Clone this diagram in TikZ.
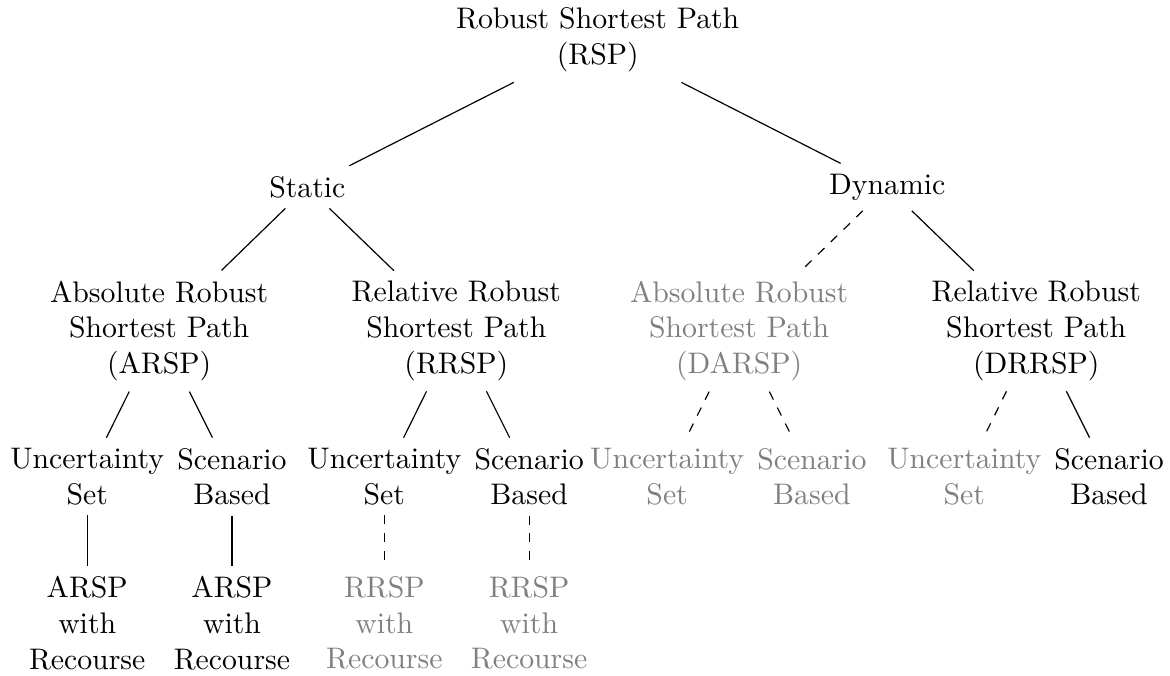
\documentclass[tikz,border=0pt]{standalone}
\usepackage{tikz}
\usetikzlibrary{calc}
\usepackage{xcolor}
\definecolor{fadegray}{RGB}{128,128,128}
\tikzset{
    topic/.style={align=center, text=black},
    topicfade/.style={align=center, text=fadegray},
    branch/.style={draw=black, line width=0.4pt},
    branchfade/.style={draw=black, line width=0.4pt, dashed}
}

\begin{document}
\begin{tikzpicture}
    \useasboundingbox (0,0) rectangle (13.82,-7.98);
    % Raiz
    \node[topic] (rsp) at (7.06,-0.47) {Robust Shortest Path\\(RSP)};
    % Nivel 1
    \node[topic] (static) at (3.63,-2.21) {Static};
    \node[topic] (dynamic) at (10.48,-2.21) {Dynamic};
    % Nivel 2
    \node[topic] (arsp) at (1.88,-3.91) {Absolute Robust\\Shortest Path\\(ARSP)};
    \node[topic] (rrsp) at (5.39,-3.91) {Relative Robust\\Shortest Path\\(RRSP)};
    \node[topicfade] (darsp) at (8.73,-3.91) {Absolute Robust\\Shortest Path\\(DARSP)};
    \node[topic] (drrsp) at (12.24,-3.91) {Relative Robust\\Shortest Path\\(DRRSP)};
    % Nivel 3
    \node[topic] (arspU) at (1.03,-5.63) {Uncertainty\\Set};
    \node[topic] (arspS) at (2.74,-5.63) {Scenario\\Based};
    \node[topic] (rrspU) at (4.54,-5.63) {Uncertainty\\Set};
    \node[topic] (rrspS) at (6.25,-5.63) {Scenario\\Based};
    \node[topicfade] (darspU) at (7.88,-5.63) {Uncertainty\\Set};
    \node[topicfade] (darspS) at (9.59,-5.63) {Scenario\\Based};
    \node[topicfade] (drrspU) at (11.39,-5.63) {Uncertainty\\Set};
    \node[topic] (drrspS) at (13.10,-5.63) {Scenario\\Based};
    % Nivel 4
    \node[topic] (arspUR) at (1.03,-7.36) {ARSP\\with\\Recourse};
    \node[topic] (arspSR) at (2.74,-7.36) {ARSP\\with\\Recourse};
    \node[topicfade] (rrspUR) at (4.54,-7.36) {RRSP\\with\\Recourse};
    \node[topicfade] (rrspSR) at (6.25,-7.36) {RRSP\\with\\Recourse};
    % Ligacoes
    \draw[branch] (rsp) -- (static);
    \draw[branch] (rsp) -- (dynamic);
    \draw[branch] (static) -- (arsp);
    \draw[branch] (static) -- (rrsp);
    \draw[branchfade] (dynamic) -- (darsp);
    \draw[branch] (dynamic) -- (drrsp);
    \draw[branch] (arsp) -- (arspU);
    \draw[branch] (arsp) -- (arspS);
    \draw[branch] (rrsp) -- (rrspU);
    \draw[branch] (rrsp) -- (rrspS);
    \draw[branchfade] (darsp) -- (darspU);
    \draw[branchfade] (darsp) -- (darspS);
    \draw[branchfade] (drrsp) -- (drrspU);
    \draw[branch] (drrsp) -- (drrspS);
    \draw[branch] (arspU) -- (arspUR);
    \draw[branch] (arspS) -- (arspSR);
    \draw[branchfade] (rrspU) -- (rrspUR);
    \draw[branchfade] (rrspS) -- (rrspSR);
\end{tikzpicture}
\end{document}
